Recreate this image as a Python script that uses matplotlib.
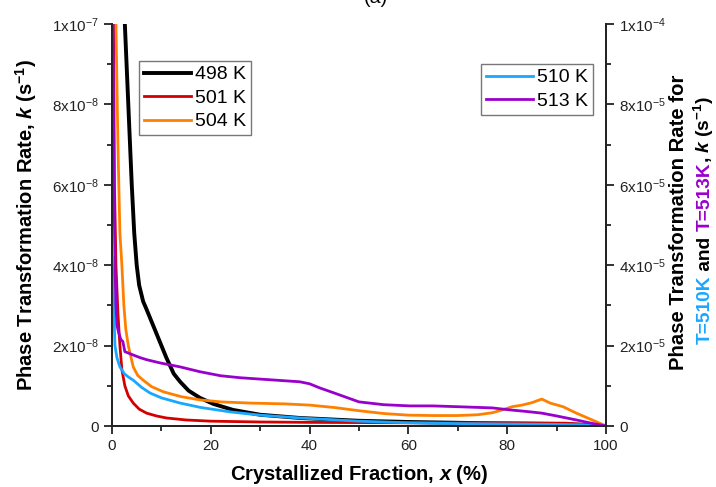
import matplotlib
matplotlib.use("Agg")
import matplotlib.pyplot as plt
from matplotlib.ticker import FuncFormatter, MultipleLocator

plt.rcParams['font.family'] = ['Liberation Sans', 'DejaVu Sans']
plt.rcParams['mathtext.fontset'] = 'custom'
plt.rcParams['mathtext.rm'] = 'Liberation Sans'
plt.rcParams['mathtext.it'] = 'Liberation Sans:italic'
plt.rcParams['mathtext.bf'] = 'Liberation Sans:bold'
plt.rcParams['mathtext.bfit'] = 'Liberation Sans:italic:bold'

# left axis series, k in 1e-9 s^-1
x_498 = [2.2, 2.6, 3.3, 4.0, 4.5, 5.0, 5.5, 6.3, 7.0, 8.0, 9.0, 10, 11, 12.5, 13.8, 15.5,
         17.8, 20.5, 24.5, 30, 38, 50, 60, 70, 80, 90, 95, 100]
k_498 = [130, 100, 80, 60, 48, 40, 35, 31, 29, 26, 23, 20, 17, 13, 11, 8.8,
         7, 5.5, 4, 2.8, 2, 1.3, 1.0, 0.8, 0.6, 0.5, 0.3, 0]

x_501 = [0.1, 0.3, 0.5, 0.8, 1.2, 1.6, 2.0, 2.6, 3.3, 4.3, 5.5, 7, 9, 11, 15, 20, 30, 40,
         60, 80, 92, 100]
k_501 = [150, 100, 60, 40, 28, 20, 14, 10, 7.5, 5.7, 4.2, 3.2, 2.5, 2.0, 1.5, 1.2, 1.0, 0.9,
         0.8, 0.8, 0.7, 0]

x_504 = [0.5, 0.8, 1.2, 1.6, 2.0, 2.4, 2.8, 3.3, 4.3, 5.2, 6.3, 8, 10.4, 14, 17.8, 22, 28,
         35, 40, 45, 50, 55, 60, 65, 70, 74, 77, 79, 81, 83, 85, 87, 88.7, 91.3, 94, 97.4, 100]
k_504 = [150, 100, 70, 48, 40, 30, 24, 20, 14.7, 12.6, 11.4, 9.8, 8.5, 7.3, 6.5, 6, 5.7,
         5.5, 5.2, 4.6, 3.8, 3.1, 2.7, 2.6, 2.6, 2.8, 3.3, 4.0, 4.8, 5.2, 5.8, 6.7, 5.7, 4.8,
         3.2, 1.4, 0]

# right axis series, k in 1e-6 s^-1
x_510 = [0, 0.2, 0.4, 0.6, 1.0, 1.6, 2.5, 3.3, 4.3, 6, 7.7, 10, 13.8, 18, 24, 30, 38, 50,
         60, 70, 80, 90, 95, 100]
k_510 = [42, 36, 28, 20, 17, 14.7, 13, 12.2, 11.4, 9.6, 8.2, 7, 5.7, 4.6, 3.5, 2.7, 2.0, 1.2,
         0.8, 0.6, 0.5, 0.4, 0.3, 0]

x_513 = [0.05, 0.2, 0.4, 0.6, 0.8, 1.0, 1.4, 1.8, 2.2, 2.6, 4, 5.7, 7, 9.7, 13.8, 17.8, 22,
         26, 32, 38, 40, 42, 45, 50, 55, 60.3, 65, 70, 77, 80.6, 84, 87, 90, 94, 97, 100]
k_513 = [150, 100, 60, 40, 30, 25, 23, 21.5, 21, 18.5, 17.8, 17, 16.5, 15.7, 14.7, 13.5, 12.5,
         12, 11.5, 11, 10.5, 9.5, 8.2, 6, 5.3, 5, 5, 4.8, 4.5, 4, 3.6, 3.2, 2.5, 1.5, 0.7, 0]

left_labels = ['498 K', '501 K', '504 K']
left_colors = ['#000000', '#d40000', '#ff8000']
right_labels = ['510 K', '513 K']
right_colors = ['#1aa7ff', '#9a00cc']


def sci_fmt(exp):
    def f(v, pos):
        if abs(v) < 1e-30:
            return '0'
        m = round(v / 10 ** exp)
        if m == 10:
            return r'$\mathregular{1x10^{%d}}$' % (exp + 1)
        return r'$\mathregular{%dx10^{%d}}$' % (m, exp)
    return f


fig = plt.figure(figsize=(7.16, 4.87), dpi=100)
ax = fig.add_axes([112 / 716, 1 - 426 / 487, 494 / 716, 402 / 487])
ax2 = ax.twinx()

l1, = ax.plot(x_498, [v * 1e-9 for v in k_498], color=left_colors[0], lw=2.8)
l2, = ax.plot(x_501, [v * 1e-9 for v in k_501], color=left_colors[1], lw=2)
l3, = ax.plot(x_504, [v * 1e-9 for v in k_504], color=left_colors[2], lw=2)
l4, = ax2.plot(x_510, [v * 1e-6 for v in k_510], color=right_colors[0], lw=2)
l5, = ax2.plot(x_513, [v * 1e-6 for v in k_513], color=right_colors[1], lw=2)

ax.set_xlim(0, 100)
ax.set_ylim(0, 1e-7)
ax2.set_ylim(0, 1e-4)

ax.xaxis.set_major_locator(MultipleLocator(20))
ax.xaxis.set_minor_locator(MultipleLocator(10))
ax.yaxis.set_major_locator(MultipleLocator(2e-8))
ax.yaxis.set_minor_locator(MultipleLocator(1e-8))
ax2.yaxis.set_major_locator(MultipleLocator(2e-5))
ax2.yaxis.set_minor_locator(MultipleLocator(1e-5))
ax.yaxis.set_major_formatter(FuncFormatter(sci_fmt(-8)))
ax2.yaxis.set_major_formatter(FuncFormatter(sci_fmt(-5)))

for a in (ax, ax2):
    a.tick_params(which='major', direction='out', length=6, width=1.3, labelsize=11,
                  colors='#222222')
    a.tick_params(which='minor', direction='out', length=3.5, width=1.3, colors='#222222')
    for s in a.spines.values():
        s.set_linewidth(1.3)
        s.set_color('#222222')
    a.spines['top'].set_visible(False)

ax.set_xlabel(r'Crystallized Fraction, $\mathbfit{x}$ (%)', fontsize=14.5, fontweight='bold',
              labelpad=7)
ax.set_ylabel(r'Phase Transformation Rate, $\mathbfit{k}$ (s$^{\mathbf{-1}}$)', fontsize=14.5,
              fontweight='bold', labelpad=9)

leg_kw = dict(loc='upper left', fontsize=14, frameon=True, fancybox=False,
              edgecolor='#555555', handlelength=2.4, labelspacing=0.3, borderpad=0.25,
              handletextpad=0.25, borderaxespad=0)
leg1 = fig.legend([l1, l2, l3], left_labels, bbox_to_anchor=(139 / 716, 1 - 61 / 487),
                  **leg_kw)
leg1.get_frame().set_linewidth(1)
leg2 = fig.legend([l4, l5], right_labels, bbox_to_anchor=(481 / 716, 1 - 64 / 487),
                  **leg_kw)
leg2.get_frame().set_linewidth(1)

# right axis label, two lines, second line multicoloured
fig.text(679 / 716, 1 - 222 / 487, 'Phase Transformation Rate for', rotation=90,
         ha='center', va='center', fontsize=14.6, fontweight='bold')

pieces = [('T=510K', right_colors[0]), (' and ', 'black'), ('T=513K', right_colors[1]),
          (r', $\mathbfit{k}$ (s$^{\mathbf{-1}}$)', 'black')]
fig.canvas.draw()
renderer = fig.canvas.get_renderer()
texts = []
for s, c in pieces:
    t = fig.text(0, 0, s, rotation=90, rotation_mode='anchor', ha='left', va='baseline',
                 fontsize=13.8, fontweight='bold', color=c)
    texts.append(t)
heights = [t.get_window_extent(renderer).height / fig.bbox.height for t in texts]
y0 = (1 - 220 / 487) - sum(heights) / 2
xb = 710 / 716
for t, h in zip(texts, heights):
    t.set_position((xb, y0))
    y0 += h

fig.text(376 / 716, 1 - 3 / 487, '(a)', ha='center', va='baseline', fontsize=14)

fig.savefig('out.png', dpi=100)
